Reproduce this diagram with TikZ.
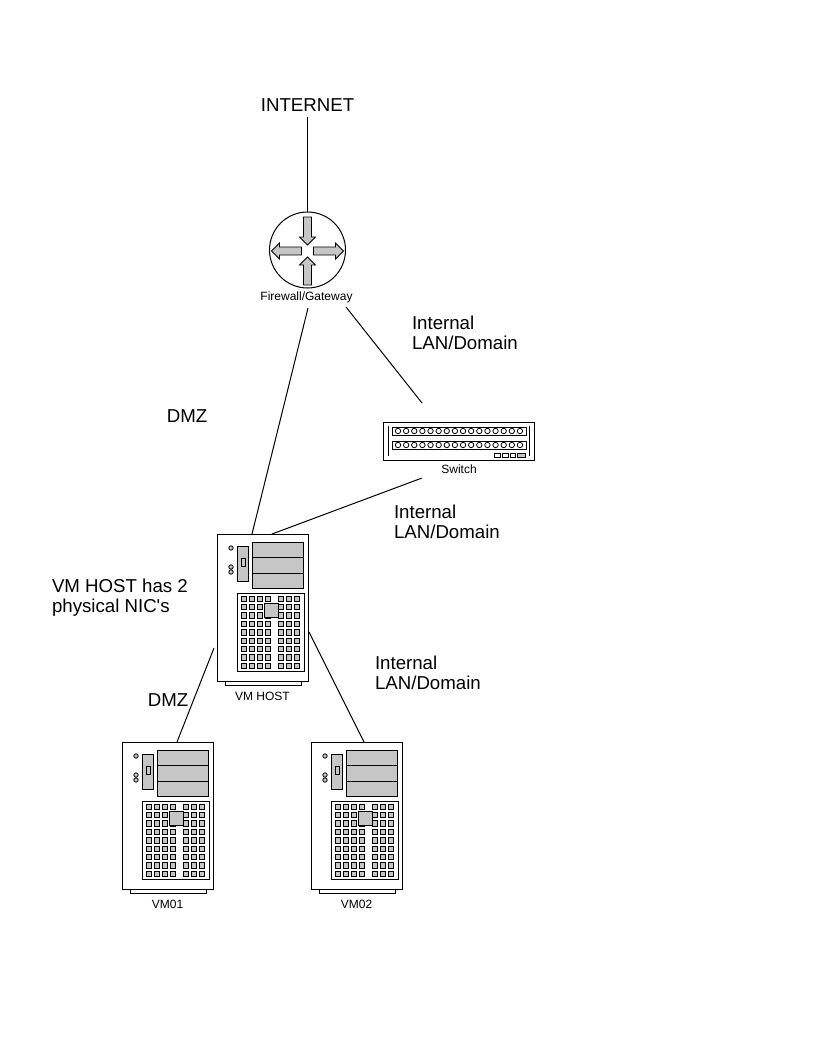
\documentclass[tikz,border=0pt]{standalone}
\usepackage{fontspec}
\setmainfont{Liberation Sans}
\newfontfamily\plainfont{Liberation Sans}
\usetikzlibrary{positioning}

\begin{document}
\begin{tikzpicture}[
  x=0.75pt,y=-0.75pt,
  line width=0.75pt,
  biglabel/.style={font=\fontsize{14}{15}\selectfont,align=left,inner sep=0pt},
  smalllabel/.style={font=\fontsize{9}{10}\selectfont,inner sep=0pt},
  devpart/.style={draw=black,fill=gray!45,line width=0.6pt},
  link/.style={draw=black,line width=0.75pt}
]
\useasboundingbox (0,0) rectangle (816,1056);

% firewall
\node[biglabel] (internet) at (307.5,105) {INTERNET};
\node[circle,draw=black,minimum size=57pt,inner sep=0pt] (firewall) at (307.5,250) {};
\node[smalllabel] (fwlabel) at (306.5,297) {Firewall/Gateway};
\begin{scope}[shift={(307.5,251)}]
  \foreach \r in {0,180}
    \path[devpart,rotate=\r]
      (-4,-34)--(4,-34)--(4,-14)--(8,-14)--(0,-6)--(-8,-14)--(-4,-14)--cycle;
  \foreach \r in {90,270}
    \path[devpart,rotate=\r]
      (-4,-6)--(4,-6)--(4,-28)--(8,-28)--(0,-36)--(-8,-28)--(-4,-28)--cycle;
\end{scope}

% switch
\node[draw=black,anchor=north west,minimum width=113.25pt,minimum height=28.5pt,
      inner sep=0pt] (switch) at (383,422) {};
\draw (388,426)--(388,456);
\draw (529,426)--(529,456);
\foreach \y in {427,441} {
  \draw (392,\y) rectangle (526,\y+8);
  \foreach \k in {0,...,15}
    \draw[line width=0.6pt] (398+\k*8.13,\y+4) circle (2.7);
}
\foreach \x/\w in {494/6,502/6,510/5.5}
  \draw[line width=0.6pt] (\x,453) rectangle (\x+\w,457.5);
\path[devpart] (517,453) rectangle (525,457.5);
\node[smalllabel] (swlabel) at (459,469.5) {Switch};

% servers
\foreach \name/\dx/\dy/\txt in {vmhost/0/0/VM HOST,vmone/-95/208/VM01,vmtwo/94/208/VM02} {
\begin{scope}[shift={(\dx,\dy)}]
  \node[draw=black,anchor=north west,minimum width=68.5pt,minimum height=110.25pt,
        inner sep=0pt] (\name) at (217,534) {};
  \draw (225,681)--(225,685)--(301,685)--(301,681);
  \path[devpart] (252,542) rectangle (303,588);
  \draw (252,557)--(303,557);
  \draw (252,573)--(303,573);
  \path[devpart] (237,546) rectangle (248,581);
  \path[devpart] (241,558) rectangle (245,566);
  \foreach \y in {548,567,572}
    \path[devpart] (231,\y) circle (2.2);
  \draw (237,593) rectangle (304,671);
  \foreach \x in {241,249,257,265,278,286,294}
    \foreach \y in {596,604.4,612.8,621.2,629.6,638,646.4,654.8,663.2}
      \path[devpart] (\x,\y) rectangle (\x+5.6,\y+5.4);
  \path[devpart] (264,603) rectangle (278,617);
  \node[smalllabel] (\name label) at (262.5,696) {\txt};
\end{scope}
}

% free ends
\coordinate (fwtail) at (308,308);
\coordinate (fwright) at (346,307);
\coordinate (swtop) at (422,403);
\coordinate (swbottom) at (422,478);
\coordinate (hosttop) at (252,534);
\coordinate (hostright) at (272,534);
\coordinate (hostleft) at (214,648);
\coordinate (hostside) at (309,632);
\coordinate (vmonetop) at (177,742);
\coordinate (vmtwotop) at (364,742);

\draw[link] (internet.south)++(0,5)--(firewall.north);
\draw[link] (fwtail)--(hosttop);
\draw[link] (fwright)--(swtop);
\draw[link] (swbottom)--(hostright);
\draw[link] (hostleft)--(vmonetop);
\draw[link] (hostside)--(vmtwotop);

% labels
\node[biglabel,anchor=west] (lanone) at (411.5,333) {Internal\\LAN/Domain};
\node[biglabel,anchor=west] (lantwo) at (393.5,522) {Internal\\LAN/Domain};
\node[biglabel,anchor=west] (lanthree) at (374.5,673) {Internal\\LAN/Domain};
\node[biglabel] (dmzone) at (187,416) {DMZ};
\node[biglabel] (dmztwo) at (168,700) {DMZ};
\node[biglabel,anchor=west] (nics) at (51.5,597.5) {VM HOST has 2\\physical NIC{\plainfont '}s};
\end{tikzpicture}
\end{document}
